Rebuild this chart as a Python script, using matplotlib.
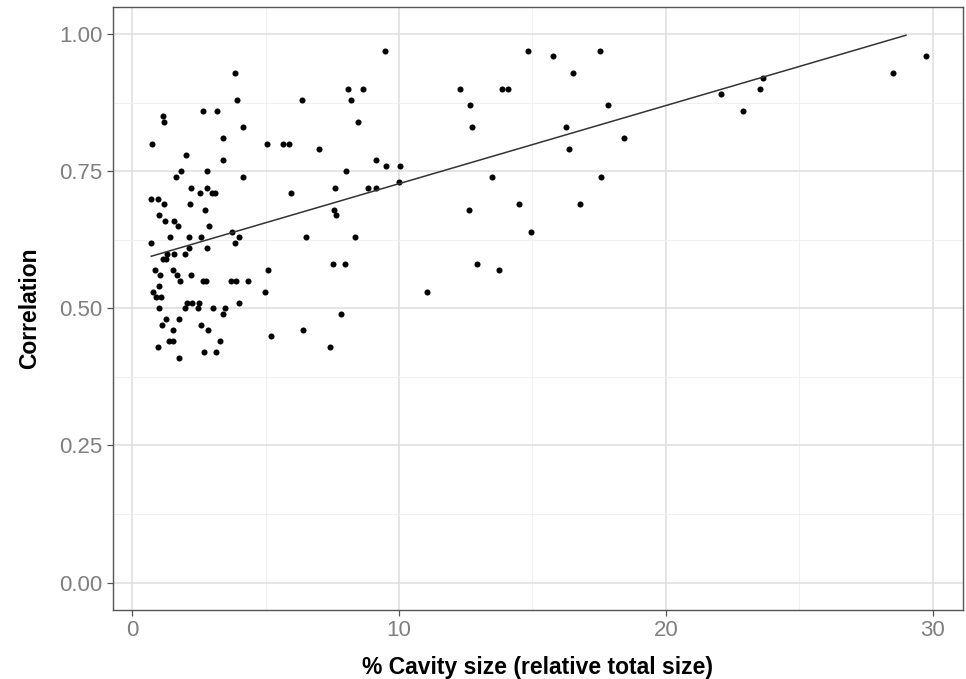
import matplotlib
matplotlib.use("Agg")
import matplotlib.pyplot as plt
from matplotlib.ticker import MultipleLocator

plt.rcParams['font.family'] = ['Liberation Sans', 'DejaVu Sans']

# % cavity size vs correlation
cavity = [0.70, 0.71, 0.74, 0.76, 0.87, 0.89, 0.97, 0.97, 1.00, 1.01,
          1.01, 1.04, 1.06, 1.11, 1.14, 1.19, 1.14, 1.19, 1.22, 1.27,
          1.27, 1.32, 1.36, 1.40, 1.51, 1.52, 1.52, 1.56, 1.56, 1.65,
          1.68, 1.70, 1.75, 1.75, 1.80, 1.84, 1.97, 1.97, 2.01, 2.06,
          2.12, 2.14, 2.15, 2.19, 2.20, 2.22, 2.47, 2.51, 2.54, 2.59,
          2.59, 2.64, 2.66, 2.67, 2.71, 2.76, 2.81, 2.81, 2.81, 2.84,
          2.87, 2.99, 3.04, 3.09, 3.14, 3.17, 3.30, 3.39, 3.39, 3.40,
          3.49, 3.70, 3.75, 3.84, 3.85, 3.90, 3.92, 3.99, 3.99, 4.14,
          4.15, 4.34, 4.97, 5.05, 5.07, 5.21, 5.65, 5.86, 5.95, 6.37,
          6.41, 6.51, 6.99, 7.40, 7.52, 7.55, 7.60, 7.62, 7.81, 7.97,
          8.02, 8.09, 8.20, 8.34, 8.46, 8.64, 8.84, 9.12, 9.15, 9.49,
          9.50, 10.01, 10.05, 11.05, 12.30, 12.62, 12.65, 12.75, 12.94, 13.47,
          13.74, 13.86, 14.07, 14.49, 14.82, 14.96, 15.77, 16.25, 16.37, 16.52,
          16.80, 17.55, 17.56, 17.84, 18.42, 22.05, 22.88, 23.52, 23.65, 28.50,
          29.75]
corr = [0.62, 0.70, 0.80, 0.53, 0.57, 0.52, 0.70, 0.43, 0.67, 0.54,
        0.50, 0.56, 0.52, 0.47, 0.85, 0.84, 0.59, 0.69, 0.66, 0.59,
        0.48, 0.60, 0.44, 0.63, 0.57, 0.46, 0.44, 0.66, 0.60, 0.74,
        0.56, 0.65, 0.48, 0.41, 0.55, 0.75, 0.60, 0.50, 0.78, 0.51,
        0.61, 0.63, 0.69, 0.56, 0.72, 0.51, 0.50, 0.51, 0.71, 0.63,
        0.47, 0.86, 0.55, 0.42, 0.68, 0.55, 0.75, 0.72, 0.61, 0.46,
        0.65, 0.71, 0.50, 0.71, 0.42, 0.86, 0.44, 0.81, 0.77, 0.49,
        0.50, 0.55, 0.64, 0.62, 0.93, 0.55, 0.88, 0.63, 0.51, 0.74,
        0.83, 0.55, 0.53, 0.80, 0.57, 0.45, 0.80, 0.80, 0.71, 0.88,
        0.46, 0.63, 0.79, 0.43, 0.58, 0.68, 0.72, 0.67, 0.49, 0.58,
        0.75, 0.90, 0.88, 0.63, 0.84, 0.90, 0.72, 0.77, 0.72, 0.97,
        0.76, 0.73, 0.76, 0.53, 0.90, 0.68, 0.87, 0.83, 0.58, 0.74,
        0.57, 0.90, 0.90, 0.69, 0.97, 0.64, 0.96, 0.83, 0.79, 0.93,
        0.69, 0.97, 0.74, 0.87, 0.81, 0.89, 0.86, 0.90, 0.92, 0.93,
        0.96]

# linear fit line, end points
fit_x = [0.71, 29.0]
fit_y = [0.595, 0.998]

fig = plt.figure(figsize=(9.66, 6.79), dpi=100)
ax = fig.add_axes([0.1165, 0.1016, 0.8807, 0.8885])

ax.scatter(cavity, corr, s=19, color='black', linewidths=0, zorder=3)
ax.plot(fit_x, fit_y, color='#333333', lw=1.1, zorder=4)

ax.set_xlim(-0.74, 31.15)
ax.set_ylim(-0.05, 1.05)
ax.xaxis.set_major_locator(MultipleLocator(10))
ax.xaxis.set_minor_locator(MultipleLocator(5))
ax.yaxis.set_major_locator(MultipleLocator(0.25))
ax.yaxis.set_minor_locator(MultipleLocator(0.125))
ax.yaxis.set_major_formatter(plt.FuncFormatter(lambda v, p: f"{v:.2f}"))

ax.grid(which='major', color='#dedede', lw=1.1, zorder=0)
ax.grid(which='minor', color='#eeeeee', lw=0.6, zorder=0)
ax.set_axisbelow(True)

for sp in ax.spines.values():
    sp.set_color('#555555')
    sp.set_linewidth(1.0)

ax.tick_params(which='major', length=4, width=0.9, color='#555555',
               labelcolor='#7f7f7f', labelsize=16, pad=3)
ax.tick_params(which='minor', length=0)

ax.set_xlabel('% Cavity size (relative total size)', fontsize=16.5,
              fontweight='bold', labelpad=11)
ax.set_ylabel('Correlation', fontsize=16.5, fontweight='bold', labelpad=13)

fig.savefig('out.png', dpi=100)
